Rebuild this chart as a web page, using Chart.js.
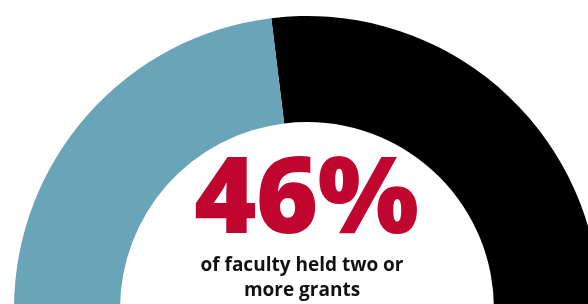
<!DOCTYPE html>
<html>
<head>
<meta charset="utf-8">
<title>Faculty grants</title>
<style>
html, body { margin: 0; padding: 0; background: #fff; }
#wrap { position: relative; width: 588px; height: 304px; overflow: hidden; font-family: "Open Sans", sans-serif; }
#chart { position: absolute; left: 14px; top: 16px; }
.big { position: absolute; left: 0; width: 612px; top: 127px; text-align: center; color: #c0062f; font-size: 107px; font-weight: 800; line-height: 130px; letter-spacing: -1px; }
.sub { position: absolute; left: 0; width: 604px; top: 252px; text-align: center; color: #111; font-size: 19px; font-weight: 700; line-height: 25px; }
</style>
</head>
<body>
<div id="wrap">
  <canvas id="chart" width="586" height="586"></canvas>
  <div class="big">46%</div>
  <div class="sub">of faculty held two or<br>more grants</div>
</div>

<script src="https://cdn.jsdelivr.net/npm/chart.js"></script>
<script>
  // share of faculty by number of grants held
  const labels = ['Fewer than two grants', 'Two or more grants'];
  const values = [54, 46];
  const colors = ['#000000', '#6aa4b9'];

  const ctx = document.getElementById('chart');

  let chart = new Chart(ctx, {
    type: 'doughnut',
    data: {
      labels: labels,
      datasets: [{
        data: values,
        backgroundColor: colors,
        borderWidth: 0,
        hoverOffset: 0
      }]
    },
    options: {
      responsive: false,
      animation: false,
      devicePixelRatio: 1,
      rotation: -7,
      cutout: 187,
      layout: { padding: 0 },
      events: [],
      plugins: {
        legend: { display: false },
        tooltip: { enabled: false }
      }
    }
  });
</script>
</body>
</html>
